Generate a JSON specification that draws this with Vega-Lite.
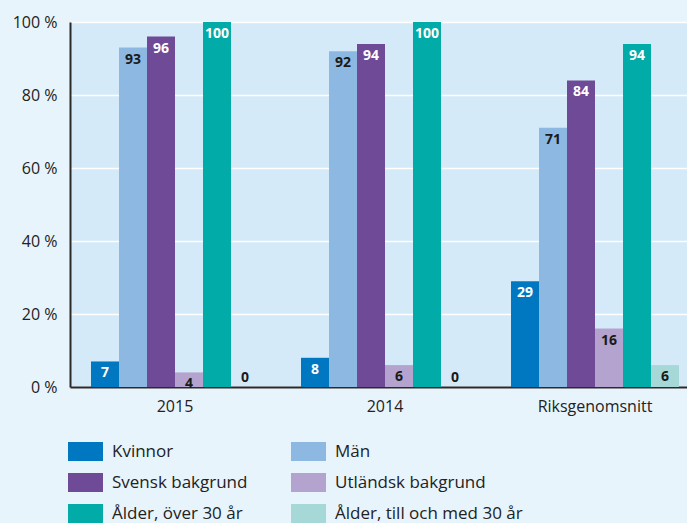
{
  "$schema": "https://vega.github.io/schema/vega-lite/v6.json",
  "width": 617,
  "height": 365,
  "autosize": {"type": "none"},
  "padding": {"left": 70, "top": 22, "right": 0, "bottom": 136},
  "background": "#e8f4fc",
  "config": {
    "view": {"fill": "#d4eaf8", "stroke": null},
    "font": "Open Sans"
  },
  "data": {
    "values": [
      {"group": "2015", "series": "Kvinnor", "value": 7},
      {"group": "2015", "series": "Män", "value": 93},
      {"group": "2015", "series": "Svensk bakgrund", "value": 96},
      {"group": "2015", "series": "Utländsk bakgrund", "value": 4},
      {"group": "2015", "series": "Ålder, över 30 år", "value": 100},
      {"group": "2015", "series": "Ålder, till och med 30 år", "value": 0},
      {"group": "2014", "series": "Kvinnor", "value": 8},
      {"group": "2014", "series": "Män", "value": 92},
      {"group": "2014", "series": "Svensk bakgrund", "value": 94},
      {"group": "2014", "series": "Utländsk bakgrund", "value": 6},
      {"group": "2014", "series": "Ålder, över 30 år", "value": 100},
      {"group": "2014", "series": "Ålder, till och med 30 år", "value": 0},
      {"group": "Riksgenomsnitt", "series": "Kvinnor", "value": 29},
      {"group": "Riksgenomsnitt", "series": "Män", "value": 71},
      {"group": "Riksgenomsnitt", "series": "Svensk bakgrund", "value": 84},
      {"group": "Riksgenomsnitt", "series": "Utländsk bakgrund", "value": 16},
      {"group": "Riksgenomsnitt", "series": "Ålder, över 30 år", "value": 94},
      {"group": "Riksgenomsnitt", "series": "Ålder, till och med 30 år", "value": 6}
    ]
  },
  "encoding": {
    "x": {
      "field": "group",
      "type": "nominal",
      "sort": ["2015", "2014", "Riksgenomsnitt"],
      "scale": {"range": [0, 630], "paddingInner": 0.2, "paddingOuter": 0.1},
      "axis": {
        "title": null,
        "labelAngle": 0,
        "labelFontSize": 16,
        "labelColor": "#222222",
        "labelPadding": 11,
        "ticks": false,
        "domainColor": "#2a2a2a",
        "domainWidth": 2,
        "grid": false
      }
    },
    "xOffset": {
      "field": "series",
      "sort": ["Kvinnor", "Män", "Svensk bakgrund", "Utländsk bakgrund", "Ålder, över 30 år", "Ålder, till och med 30 år"],
      "scale": {"paddingInner": 0, "paddingOuter": 0}
    },
    "y": {
      "field": "value",
      "type": "quantitative",
      "scale": {"domain": [0, 100]},
      "axis": {
        "title": null,
        "values": [0, 20, 40, 60, 80, 100],
        "labelExpr": "datum.value + ' %'",
        "labelFontSize": 16,
        "labelColor": "#222222",
        "labelPadding": 13,
        "ticks": false,
        "domainColor": "#2a2a2a",
        "domainWidth": 2,
        "grid": true,
        "gridColor": "#ffffff",
        "gridWidth": 1.5
      }
    }
  },
  "layer": [
    {
      "mark": {"type": "bar"},
      "encoding": {
        "color": {
          "field": "series",
          "type": "nominal",
          "sort": ["Kvinnor", "Män", "Svensk bakgrund", "Utländsk bakgrund", "Ålder, över 30 år", "Ålder, till och med 30 år"],
          "scale": {
            "domain": ["Kvinnor", "Män", "Svensk bakgrund", "Utländsk bakgrund", "Ålder, över 30 år", "Ålder, till och med 30 år"],
            "range": ["#0078c1", "#8db8e2", "#6f4a96", "#b5a3cf", "#00aba8", "#a6d8d8"]
          },
          "legend": {
            "title": null,
            "orient": "none",
            "legendX": -2,
            "legendY": 412,
            "direction": "horizontal",
            "columns": 2,
            "columnPadding": 43,
            "rowPadding": 4,
            "symbolType": "M-1,-0.54H1V0.54H-1Z",
            "symbolSize": 1225,
            "symbolStrokeWidth": 0,
            "symbolOpacity": 1,
            "labelFontSize": 17,
            "labelColor": "#222222",
            "labelOffset": 9,
            "labelLimit": 300
          }
        }
      }
    },
    {
      "transform": [{"filter": "datum.value > 0"}],
      "mark": {"type": "text", "baseline": "top", "dy": 5, "fontWeight": "bold", "fontSize": 14},
      "encoding": {
        "text": {"field": "value", "type": "quantitative"},
        "color": {
          "condition": {"test": "indexof(['Kvinnor','Svensk bakgrund','Ålder, över 30 år'], datum.series) >= 0", "value": "#ffffff"},
          "value": "#1a1a1a"
        }
      }
    },
    {
      "transform": [{"filter": "datum.value == 0"}],
      "mark": {"type": "text", "baseline": "bottom", "dy": -2, "fontWeight": "bold", "fontSize": 14, "color": "#1a1a1a"},
      "encoding": {
        "text": {"field": "value", "type": "quantitative"}
      }
    }
  ]
}
